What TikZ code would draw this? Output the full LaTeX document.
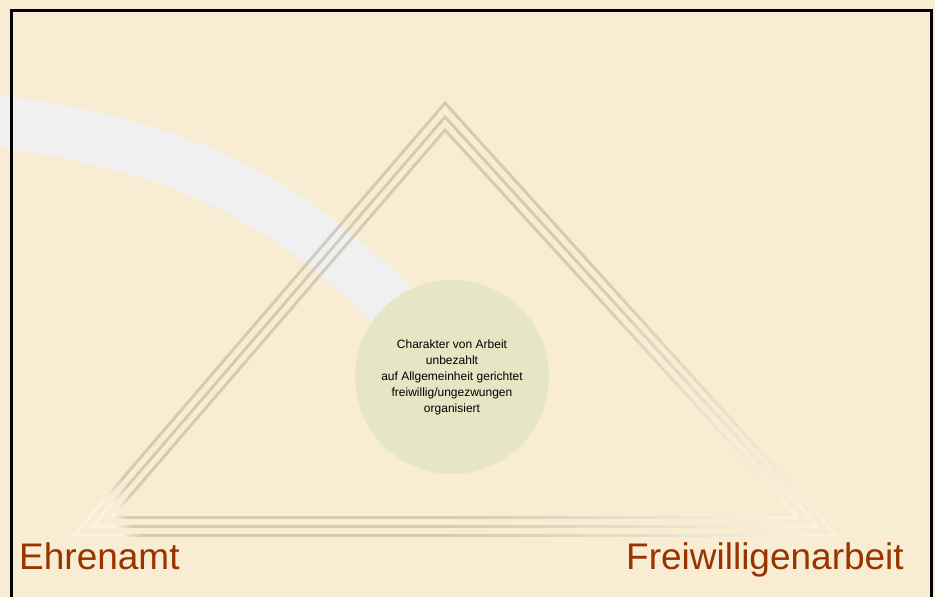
\documentclass[tikz,border=0pt]{standalone}
\usepackage{fontspec}
\setmainfont{Liberation Sans}
\usetikzlibrary{calc}
\definecolor{myBack}{RGB}{248,237,211}
\definecolor{myBand}{RGB}{240,240,240}
\definecolor{myCore}{RGB}{230,229,196}
\definecolor{myLine}{RGB}{176,173,146}
\definecolor{myPale}{RGB}{255,250,238}
\definecolor{myRust}{RGB}{153,51,0}
\tikzset{
	triline/.style={line width=3pt, opacity=0.5, line cap=butt, line join=miter},
	bandline/.style={line width=52pt, draw=myBand},
	corebox/.style={
		circle,
		fill=myCore,
		minimum size=194pt,
		inner sep=0pt,
		align=center,
		font=\fontsize{12}{16}\selectfont
	},
	sidelabel/.style={text=myRust, inner sep=0pt, font=\fontsize{37}{40}\selectfont},
	frameline/.style={line width=2.7pt, line join=miter}
}
\newcommand{\fadeline}[4]{%
	\foreach \k in {1,...,12}{
		\pgfmathsetmacro{\ta}{(\k-1)/12}
		\pgfmathsetmacro{\tb}{\k/12}
		\pgfmathtruncatemacro{\mix}{#3+(#4-#3)*(\k-0.5)/12}
		\draw[triline, draw=myLine!\mix!myPale] ($(#1)!\ta!(#2)$) -- ($(#1)!\tb!(#2)$);
	}}
\newcommand{\fadetri}[5]{%
	\coordinate (#1l1) at ($(#1A)!#2!(#1L)$);
	\coordinate (#1l2) at ($(#1A)!#3!(#1L)$);
	\coordinate (#1r1) at ($(#1A)!0.4!(#1R)$);
	\coordinate (#1b1) at ($(#1L)!#4!(#1R)$);
	\coordinate (#1b2) at ($(#1L)!#5!(#1R)$);
	\coordinate (#1b3) at ($(#1L)!0.5!(#1R)$);
	\draw[triline, draw=myLine] (#1l1) -- (#1A) -- (#1r1);
	\draw[triline, draw=myLine] (#1b2) -- (#1b3);
	\draw[triline, draw=myPale] (#1l2) -- (#1L) -- (#1b1);
	\fadeline{#1l1}{#1l2}{100}{0}
	\fadeline{#1r1}{#1R}{100}{0}
	\fadeline{#1b1}{#1b2}{0}{100}
	\fadeline{#1b3}{#1R}{100}{0}
}

\begin{document}
\begin{tikzpicture}[x=1pt, y=-1pt]
	\clip (0,0) rectangle (935,597);
	\fill[myBack] (0,0) rectangle (935,597);
	\coordinate (corec) at (452,377);
	\coordinate (bandstart) at (-20,119);
	\draw[bandline] (bandstart) .. controls (160,140) and (310,190) .. (corec);
	\coordinate (oA) at (445,103);
	\coordinate (oL) at (74,535);
	\coordinate (oR) at (836,535);
	\coordinate (mA) at (445,117);
	\coordinate (mL) at (93,526);
	\coordinate (mR) at (818,526);
	\coordinate (iA) at (445,130);
	\coordinate (iL) at (112,517);
	\coordinate (iR) at (798,517);
	\fadetri{o}{0.87}{0.92}{0.06}{0.09}
	\fadetri{m}{0.90}{0.95}{0.03}{0.055}
	\fadetri{i}{0.94}{0.99}{0.0}{0.025}
	\node[corebox] (core) at (corec) {Charakter von Arbeit\\unbezahlt\\auf Allgemeinheit gerichtet\\freiwillig/ungezwungen\\organisiert};
	\node[sidelabel, anchor=base west] (ehren) at (19,569) {Ehrenamt};
	\node[sidelabel, anchor=base east] (freiw) at (904,569) {Freiwilligenarbeit};
	\draw[frameline] (11.3,600) -- (11.3,10.3) -- (931.3,10.3) -- (931.3,600);
\end{tikzpicture}
\end{document}
